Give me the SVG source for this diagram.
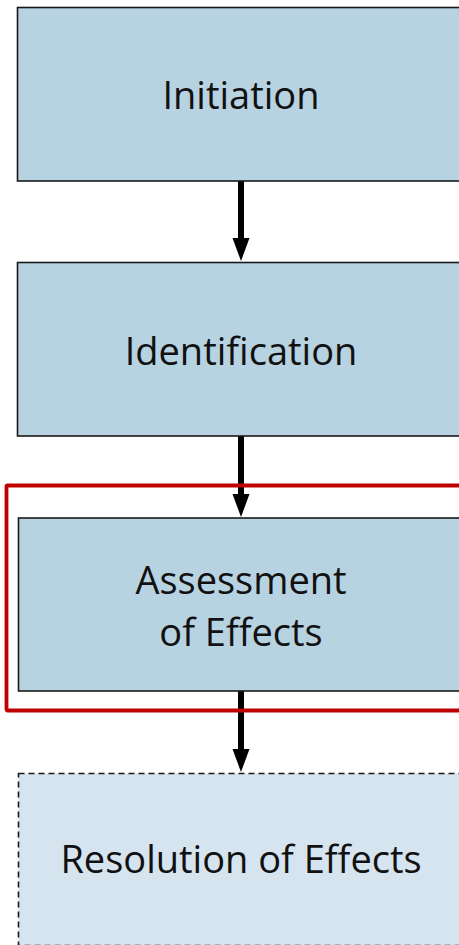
<svg xmlns="http://www.w3.org/2000/svg" width="459" height="945" viewBox="0 0 459 945">
<defs>
<style>
.box{fill:#b7d2e0;stroke:#1a1a1a;stroke-width:1.6}
.dash{fill:#d6e4ef;stroke:#1a1a1a;stroke-width:1.6;stroke-dasharray:6 4}
.lbl{font-family:"Open Sans","Liberation Sans",sans-serif;font-size:38px;fill:#111;text-anchor:middle}
.shaft{stroke:#000;stroke-width:6;fill:none}
.head{fill:#000}
</style>
</defs>
<rect width="459" height="945" fill="#ffffff"/>
<g id="connectors">
<line class="shaft" x1="241" y1="181" x2="241" y2="240"/>
<polygon class="head" points="232.5,238 249.5,238 241,261"/>
<line class="shaft" x1="241" y1="436" x2="241" y2="496"/>
<polygon class="head" points="232.5,494 249.5,494 241,517"/>
<line class="shaft" x1="241" y1="691" x2="241" y2="751"/>
<polygon class="head" points="232.5,749 249.5,749 241,772"/>
</g>
<g id="initiation">
<rect class="box" x="17.5" y="7.5" width="450" height="173.5"/>
<text class="lbl" x="241" y="109">Initiation</text>
</g>
<g id="identification">
<rect class="box" x="17.5" y="262.5" width="450" height="173.5"/>
<text class="lbl" x="241" y="365">Identification</text>
</g>
<g id="highlight">
<rect x="6.5" y="485.5" width="460" height="225" fill="none" stroke="#c00000" stroke-width="3.8" rx="1"/>
</g>
<g id="assessment">
<rect class="box" x="18.5" y="518" width="450" height="173"/>
<text class="lbl" x="241" y="594">Assessment</text>
<text class="lbl" x="241" y="646">of Effects</text>
</g>
<g id="resolution">
<rect class="dash" x="18.5" y="773.5" width="450" height="172"/>
<text class="lbl" x="241" y="873">Resolution of Effects</text>
</g>
</svg>
